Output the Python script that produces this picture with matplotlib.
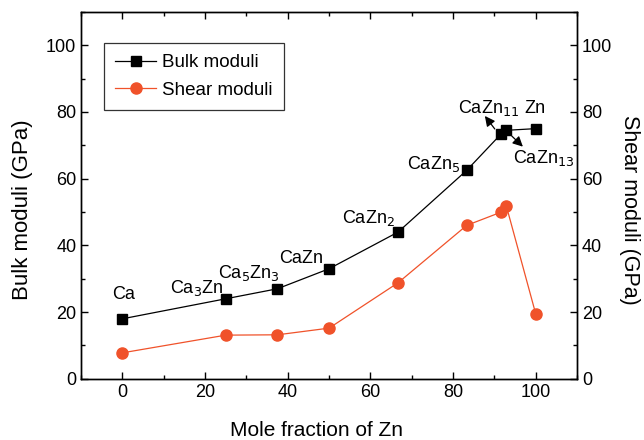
import matplotlib.pyplot as plt
from matplotlib.ticker import MultipleLocator

plt.rcParams['font.family'] = ['Liberation Sans', 'DejaVu Sans']

# ---------- Dados ----------
fracao_zn = [0, 25, 37.5, 50, 66.7, 83.3, 91.7, 92.9, 100]
bulk = [18, 24, 27, 33, 44, 62.5, 73.5, 74.5, 75]
shear = [7.8, 13.1, 13.2, 15.2, 28.8, 46, 50, 51.8, 19.5]

# rótulos das fases (texto, x à esquerda, y da linha de base)
rotulos = [
    ("Ca", -2.4, 23.9),
    ("Ca$_3$Zn", 11.6, 25.7),
    ("Ca$_5$Zn$_3$", 23.2, 30.1),
    ("CaZn", 37.9, 34.6),
    ("CaZn$_2$", 53.1, 46.6),
    ("CaZn$_5$", 68.8, 63.0),
    ("CaZn$_{11}$", 81.2, 79.7),
    ("Zn", 97.3, 79.7),
    ("CaZn$_{13}$", 94.4, 64.8),
]

# setas (ponta, cauda)
setas = [
    ((87.7, 78.8), (90.1, 74.9)),
    ((96.9, 69.6), (94.2, 72.8)),
]

laranja = '#F0522A'

fig, ax = plt.subplots(figsize=(6.44, 4.40), dpi=100)
fig.subplots_adjust(left=0.126, right=0.896, top=0.973, bottom=0.139)

ax.plot(fracao_zn, bulk, '-s', color='black', lw=0.9, ms=7, label='Bulk moduli')
ax.plot(fracao_zn, shear, '-o', color=laranja, lw=0.9, ms=8, label='Shear moduli')

for txt, x, y in rotulos:
    ax.text(x, y, txt, fontsize=13, ha='left', va='baseline')

for ponta, cauda in setas:
    ax.annotate("", xy=ponta, xytext=cauda,
                arrowprops=dict(arrowstyle='-|>,head_length=0.6,head_width=0.3',
                                color='black', lw=0.9, shrinkA=0, shrinkB=0,
                                mutation_scale=10))

ax.set_xlim(-10, 110)
ax.set_ylim(0, 110)
ax.set_xticks([0, 20, 40, 60, 80, 100])
ax.set_yticks([0, 20, 40, 60, 80, 100])
ax.xaxis.set_minor_locator(MultipleLocator(10))
ax.yaxis.set_minor_locator(MultipleLocator(10))
ax.tick_params(which='both', direction='in', top=True, labelsize=13, width=1)
ax.tick_params(which='major', length=5)
ax.tick_params(which='minor', length=3)

ax.set_xlabel("Mole fraction of Zn", fontsize=15)
ax.xaxis.set_label_coords(0.474, -0.115)
ax.set_ylabel("Bulk moduli (GPa)", fontsize=16)
ax.yaxis.label.set_va('center')
ax.yaxis.set_label_coords(-0.119, 0.46)

ax2 = ax.twinx()
ax2.set_ylim(0, 110)
ax2.set_yticks([0, 20, 40, 60, 80, 100])
ax2.yaxis.set_minor_locator(MultipleLocator(10))
ax2.tick_params(which='both', direction='in', labelsize=13, width=1)
ax2.tick_params(which='major', length=5)
ax2.tick_params(which='minor', length=3)
ax2.set_ylabel("Shear moduli (GPa)", fontsize=15.5, rotation=-90)
ax2.yaxis.label.set_va('center')
ax2.yaxis.set_label_coords(1.106, 0.46)

leg = ax.legend(loc='upper left', bbox_to_anchor=(0.046, 0.916), borderaxespad=0,
                fontsize=13.5, frameon=True, fancybox=False, edgecolor='black',
                handlelength=2.2, handletextpad=0.3, borderpad=0.6, labelspacing=0.55)
leg.get_frame().set_linewidth(0.9)

for a in (ax, ax2):
    for s in a.spines.values():
        s.set_linewidth(1)

plt.savefig("out.png", dpi=100)
